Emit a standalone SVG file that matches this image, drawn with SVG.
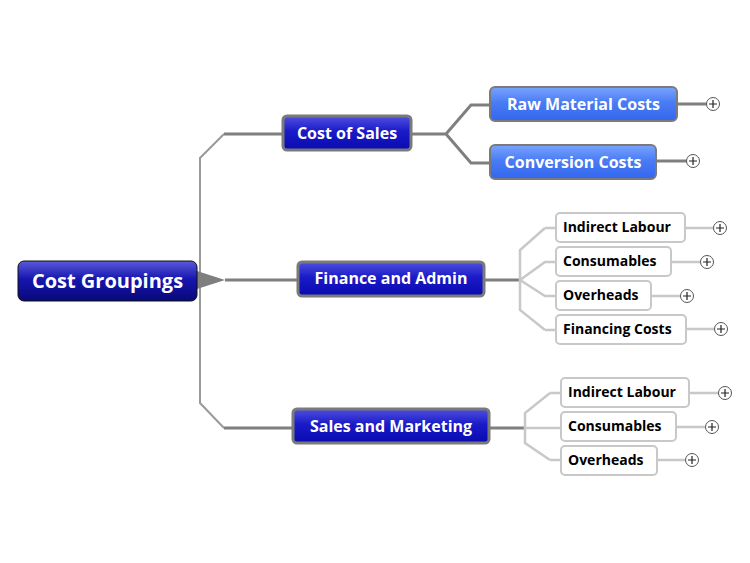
<svg xmlns="http://www.w3.org/2000/svg" width="750" height="563" viewBox="0 0 750 563">
<defs>
<linearGradient id="dk" x1="0" y1="0" x2="0" y2="1"><stop offset="0" stop-color="#5a5ad8"/><stop offset="0.45" stop-color="#1616b0"/><stop offset="1" stop-color="#08087a"/></linearGradient>
<linearGradient id="mb" x1="0" y1="0" x2="0" y2="1"><stop offset="0" stop-color="#5050e0"/><stop offset="0.45" stop-color="#1a1ac8"/><stop offset="1" stop-color="#0a0ab0"/></linearGradient>
<linearGradient id="lb" x1="0" y1="0" x2="0" y2="1"><stop offset="0" stop-color="#7aa4ff"/><stop offset="0.45" stop-color="#4a7cf4"/><stop offset="1" stop-color="#3366ee"/></linearGradient>
</defs>
<style>
.t{font-family:"Open Sans","DejaVu Sans",sans-serif;font-weight:bold;fill:#fff}
.k{font-family:"Open Sans","DejaVu Sans",sans-serif;font-weight:bold;fill:#000;font-size:14px}
.m{fill:url(#mb);stroke:#7a7a7a;stroke-width:3}
.l{fill:url(#lb);stroke:#7a7a7a;stroke-width:2}
.w{fill:#fff;stroke:#c8c8c8;stroke-width:2}
.dc{fill:none;stroke:#7f7f7f;stroke-width:3}
.tc{fill:none;stroke:#9a9a9a;stroke-width:2}
.gc{fill:none;stroke:#c8c8c8;stroke-width:2.5}
.p{fill:#fff;stroke:#555;stroke-width:1}
.pl{stroke:#222;stroke-width:1.2}
</style>
<g id="connectors">
<path class="tc" d="M224,134 L200,158 L200,403 L224,428"/>
<path class="dc" d="M224,134 H283 M224,428 H293 M225,280 H298"/>
<polygon points="197,271 225,280 197,289" fill="#7f7f7f"/>
<path class="dc" d="M411,134 H446 M446,134 L471,105 H490 M446,134 L471,163 H490"/>
<path class="dc" d="M677,104 H707 M656,161 H687"/>
<path class="dc" d="M484,280 H520"/>
<path class="gc" d="M545,228 L520,250 L520,310 L545,330 M545,228 H556 M545,330 H556 M520,280 L545,262 H556 M520,280 L545,296 H556"/>
<path class="gc" d="M685,228 H714 M671,262 H701 M651,296 H681 M686,329 H715"/>
<path class="dc" d="M489,428 H525"/>
<path class="gc" d="M550,393 L525,413 L525,443 L550,460 M550,393 H561 M550,460 H561 M525,428 H561"/>
<path class="gc" d="M689,393 H719 M676,427 H706 M657,460 H686"/>
</g>
<g id="root"><rect x="18" y="261" width="179" height="40" rx="6" fill="url(#dk)" stroke="#111" stroke-width="1"/><text class="t" x="107.5" y="288" font-size="20" text-anchor="middle">Cost Groupings</text></g>
<g id="cos"><rect class="m" x="283" y="116" width="128" height="34" rx="4"/><text class="t" x="347" y="139" font-size="16" text-anchor="middle">Cost of Sales</text></g>
<g id="fa"><rect class="m" x="298" y="262" width="186" height="34" rx="4"/><text class="t" x="391" y="284" font-size="16" text-anchor="middle">Finance and Admin</text></g>
<g id="sm"><rect class="m" x="293" y="409" width="196" height="34" rx="4"/><text class="t" x="391" y="432" font-size="16" text-anchor="middle">Sales and Marketing</text></g>
<g id="raw"><rect class="l" x="490" y="87" width="187" height="34" rx="5"/><text class="t" x="583.5" y="110" font-size="16" text-anchor="middle">Raw Material Costs</text></g>
<g id="conv"><rect class="l" x="490" y="145" width="166" height="34" rx="5"/><text class="t" x="573" y="168" font-size="16" text-anchor="middle">Conversion Costs</text></g>
<g id="fa1"><rect class="w" x="556" y="213" width="129" height="29" rx="4"/><text class="k" x="563" y="232">Indirect Labour</text></g>
<g id="fa2"><rect class="w" x="556" y="247" width="115" height="29" rx="4"/><text class="k" x="563" y="266">Consumables</text></g>
<g id="fa3"><rect class="w" x="556" y="281" width="95" height="29" rx="4"/><text class="k" x="563" y="300">Overheads</text></g>
<g id="fa4"><rect class="w" x="556" y="315" width="130" height="29" rx="4"/><text class="k" x="563" y="334">Financing Costs</text></g>
<g id="sm1"><rect class="w" x="561" y="378" width="128" height="29" rx="4"/><text class="k" x="568" y="397">Indirect Labour</text></g>
<g id="sm2"><rect class="w" x="561" y="412" width="115" height="29" rx="4"/><text class="k" x="568" y="431">Consumables</text></g>
<g id="sm3"><rect class="w" x="561" y="446" width="96" height="29" rx="4"/><text class="k" x="568" y="465">Overheads</text></g>
<g id="plus">
<g transform="translate(713,104)"><circle class="p" r="6.5"/><path class="pl" d="M-4,0H4M0,-4V4"/></g>
<g transform="translate(693,161)"><circle class="p" r="6.5"/><path class="pl" d="M-4,0H4M0,-4V4"/></g>
<g transform="translate(720,228)"><circle class="p" r="6.5"/><path class="pl" d="M-4,0H4M0,-4V4"/></g>
<g transform="translate(707,262)"><circle class="p" r="6.5"/><path class="pl" d="M-4,0H4M0,-4V4"/></g>
<g transform="translate(687,296)"><circle class="p" r="6.5"/><path class="pl" d="M-4,0H4M0,-4V4"/></g>
<g transform="translate(721,329)"><circle class="p" r="6.5"/><path class="pl" d="M-4,0H4M0,-4V4"/></g>
<g transform="translate(725,393)"><circle class="p" r="6.5"/><path class="pl" d="M-4,0H4M0,-4V4"/></g>
<g transform="translate(712,427)"><circle class="p" r="6.5"/><path class="pl" d="M-4,0H4M0,-4V4"/></g>
<g transform="translate(692,460)"><circle class="p" r="6.5"/><path class="pl" d="M-4,0H4M0,-4V4"/></g>
</g>
</svg>
